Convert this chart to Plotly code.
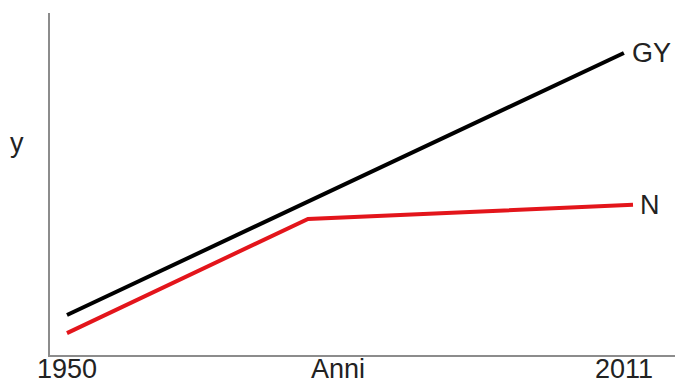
import plotly.graph_objects as go

years_gy = [1950, 2011]
gy_values = [11.7, 88.3]
years_n = [1950, 1976.4, 2012]
n_values = [6.4, 39.8, 43.9]
tick_vals = [1950, 1979.7, 2011]
tick_text = ["1950", "Anni", "2011"]

font = dict(family="Liberation Sans, Arial, sans-serif", size=27, color="#222222")

fig = go.Figure()
fig.add_trace(go.Scatter(x=years_gy, y=gy_values, mode="lines",
                         line=dict(color="#000000", width=4), showlegend=False))
fig.add_trace(go.Scatter(x=years_n, y=n_values, mode="lines",
                         line=dict(color="#e3151b", width=4), showlegend=False))

fig.add_annotation(x=years_gy[-1], y=gy_values[-1], text="GY", showarrow=False,
                   xanchor="left", yanchor="middle", xshift=6, font=font)
fig.add_annotation(x=years_n[-1], y=n_values[-1], text="N", showarrow=False,
                   xanchor="left", yanchor="middle", xshift=5, font=font)
fig.add_annotation(xref="paper", yref="paper", x=-0.053, y=0.62, text="y",
                   showarrow=False, xanchor="center", yanchor="middle", font=font)

# x-axis labels placed just under the axis line, kept inside the canvas
for tv, tt in zip(tick_vals, tick_text):
    fig.add_annotation(x=tv, xref="x", yref="paper", y=-0.088, text=tt,
                       showarrow=False, xanchor="center", yanchor="bottom",
                       font=font, borderpad=0)

fig.update_layout(
    width=679, height=387,
    margin=dict(l=50, r=4, t=13, b=32),
    paper_bgcolor="white", plot_bgcolor="white",
    font=font,
    xaxis=dict(range=[1948.14, 2016.6], showgrid=False, zeroline=False,
               showline=True, linecolor="#8c8c8c", linewidth=2,
               showticklabels=False, ticks=""),
    yaxis=dict(range=[0, 100], showgrid=False, zeroline=False,
               showline=True, linecolor="#8c8c8c", linewidth=2,
               showticklabels=False, ticks=""),
)

fig.write_html(
    "out.html",
    config={"displayModeBar": False},
    post_script="document.body.style.margin='0';document.body.style.padding='0';document.body.style.overflow='hidden';",
)
